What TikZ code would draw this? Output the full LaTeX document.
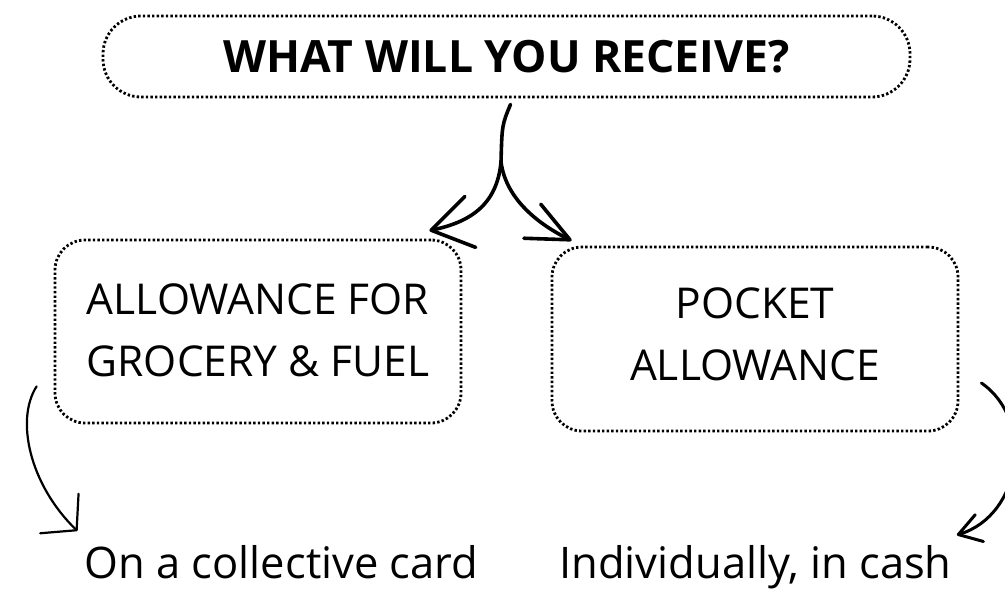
\documentclass[tikz,border=0pt]{standalone}
\usepackage{fontspec}
\setmainfont{Open Sans}
\usetikzlibrary{arrows.meta}

\begin{document}
\begin{tikzpicture}[x=1pt,y=-1pt,
	dotbox/.style={draw,line width=2.8pt,dash pattern=on 2.4pt off 2.2pt,align=center,inner sep=0pt},
	txt/.style={font=\fontsize{42.5}{61.5}\selectfont,align=center},
	brush/.style={line width=3.6pt,line cap=round,line join=round},
	pen/.style={line width=2.2pt,line cap=round,line join=round}]
	\useasboundingbox (0,0) rectangle (1005,589);
	
	%TOP
	\node[dotbox,rounded corners=38pt,minimum width=807pt,minimum height=81pt,font=\fontsize{44.5}{54}\bfseries\selectfont] (title) at (506.5,56.5) {WHAT WILL YOU RECEIVE?};
	\coordinate (stem) at ([shift={(4,6)}]title.south);
	\coordinate (fork) at (501,162);
	
	%MIDDLE
	\node[dotbox,txt,rounded corners=30pt,minimum width=406pt,minimum height=183pt,text depth=3pt] (grocery) at (258,331.5) {ALLOWANCE FOR\\GROCERY \& FUEL};
	\node[dotbox,txt,rounded corners=30pt,minimum width=406pt,minimum height=184pt,text depth=10pt] (pocket) at (755,339) {POCKET\\ALLOWANCE};
	\coordinate (groceryin) at ([shift={(-33,-8)}]grocery.north east);
	\coordinate (pocketin) at ([shift={(21,-5)}]pocket.north west);
	%
	\draw[brush] (stem) .. controls (502,125) .. (fork);
	\draw[brush,-{Straight Barb[length=40pt,width=52pt,round]}] (fork) .. controls (497,205) and (470,222) .. (groceryin);
	\draw[brush,-{Straight Barb[length=42pt,width=38pt,round]}] (fork) .. controls (506,200) and (540,225) .. (pocketin);
	
	%BOTTOM
	\node[txt,font=\fontsize{43.5}{63}\selectfont,anchor=base,inner sep=0pt] (card) at (281.5,578) {On a collective card};
	\node[txt,font=\fontsize{43.5}{63}\selectfont,anchor=base,inner sep=0pt] (cash) at (755.5,578) {Individually, in cash};
	\coordinate (cardin) at ([shift={(-7,-47)}]card.base west);
	\coordinate (cashin) at ([shift={(5,-43)}]cash.base east);
	%
	\draw[pen,-{Straight Barb[length=24pt,width=55pt,round]}] ([shift={(-17,-38)}]grocery.south west) .. controls (15,420) and (30,485) .. (cardin);
	\draw[brush,line width=3pt,-{Straight Barb[length=22pt,width=28pt,round]}] ([shift={(22,44)}]pocket.east) .. controls (1035,420) and (1022,515) .. (cashin);
\end{tikzpicture}
\end{document}
